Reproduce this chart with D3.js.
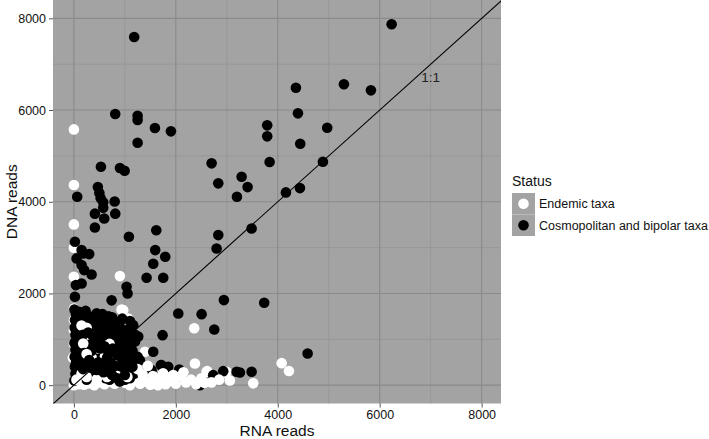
<!DOCTYPE html>
<html>
<head>
<meta charset="utf-8">
<script src="https://cdn.jsdelivr.net/npm/d3@7"></script>
<style>
	body { margin: 0; background: #fff; }
	svg { display: block; font-family: "Liberation Sans", Arial, sans-serif; }
</style>
</head>
<body>
<svg id="scatter" width="709" height="439"></svg>
<script>
/**
*/
var endemic = [
	[0,5578],[0,4364],[0,3506],[0,2996],[0,2364],[903,2378],[935,1651],[968,1636],[1066,1455],
	[2361,1240],[1393,727],[2375,473],[2617,305],[2949,268],[2604,291],[2996,291],[3061,100],
	[3519,40],[4076,480],[4219,310],[0,1673],[0,1418],[0,1200],[0,900],[-20,600],
	[150,500],[500,550],[1000,480],[600,350],[800,700],
	[0,0],[100,20],[200,10],[300,40],[400,0],[500,60],[600,20],[700,80],[800,30],[900,150],
	[1000,50],[1100,0],[1200,100],[1300,30],[1400,80],[1500,10],[1600,60],[1700,150],
	[1800,20],[1900,90],[2000,30],[2100,200],[2200,60],[2300,120],[2400,20],[2500,150],
	[2560,50],[150,250],[350,280],[550,300],[750,250],[950,300],[1150,260],[1350,230],
	[1550,200],[1750,260],[1950,220],[2150,280],[1850,160],[1650,0],[1250,350],[1450,420],
	[150,1300],[250,1250],[300,1100],[183,909],[477,800],[350,600],[608,618],
	[838,545],[700,900],[250,680],
	[50,120],[250,180],[450,130],[650,180],[850,200],[1050,180],[2700,60],[2850,120]
];

var cosmopolitan = [
	[1183,7593],[811,5913],[1250,5876],[1250,5782],[1590,5608],[1904,5535],[1250,5287],
	[530,4764],[903,4735],[995,4676],[2702,4837],[2833,4401],[3291,4546],[3408,4320],[3199,4109],
	[6234,7870],[4356,6487],[5298,6561],[5828,6430],[4396,5928],[3793,5666],[3793,5426],
	[4970,5615],[4441,5266],[3840,4866],[4886,4873],[4160,4204],[4435,4298],
	[65,4109],[470,4320],[500,4190],[525,4075],[575,3990],[800,4005],[412,3740],[575,3870],
	[812,3740],[595,3636],[412,3440],
	[1079,3236],[1616,3380],[1596,2946],[1792,2800],[1557,2647],[1426,2341],[1753,2341],
	[20,3127],[151,2946],[183,2873],[300,2858],[53,2764],[151,2618],[202,2509],[347,2415],
	[1034,2145],[1053,2000],[39,2182],[151,2218],[20,1927],
	[2833,3273],[2800,2982],[3487,3418],[2943,1855],[2048,1564],[2506,1549],[2754,1215],
	[740,1850],[1164,1309],[1740,1091],[1262,1060],[1557,727],[445,1564],
	[1720,436],[1524,327],[1557,109],[3192,291],[3487,291],[2733,218],[2473,0],[3734,1797],
	[4586,691],[3257,276],[1295,545],[1707,436],[1851,400],[2067,340],[2930,305],[1491,327],
	[10,1650],[40,1550],[20,1420],[60,1330],[15,1250],[80,1180],[30,1100],[50,1000],[10,920],
	[90,860],[30,780],[70,700],[15,620],[100,560],[40,480],[20,400],[80,330],[30,250],[60,170],
	[10,100],[120,1450],[150,1250],[130,1050],[160,900],[140,720],[170,600],[120,420],[160,300],
	[230,1620],[300,1500],[250,1380],[380,1420],[450,1560],[520,1450],[600,1400],[680,1500],
	[750,1480],[820,1350],[900,1380],[960,1200],[1000,1100],[1080,1000],[1150,1300],[1200,1100],
	[220,1200],[330,1250],[420,1150],[500,1300],[560,1180],[650,1250],[720,1150],[800,1200],
	[880,1050],[950,950],[1050,850],[1150,750],[1250,620],
	[250,1000],[360,950],[450,1020],[540,900],[620,1000],[700,880],[780,950],[850,820],
	[920,700],[1000,650],[1100,560],[1200,450],
	[230,800],[300,700],[400,820],[480,720],[560,650],[640,760],[720,640],[800,560],[880,480],
	[960,420],[1050,350],[1180,250],
	[250,550],[350,480],[430,600],[520,420],[600,520],[680,400],[760,300],[840,250],[920,200],
	[1000,120],[300,300],[400,200],[500,250],[620,150],[700,120],[250,120],[900,80],[1100,150],
	[100,1600],[200,1500],[350,1350],[480,1400],[560,1550],[620,1300],[700,1350],[780,1300],
	[870,1250],[950,1450],[1050,1200],[1100,1400],[180,1100],[280,1150],[380,1050],[480,1100],
	[600,1100],[680,1050],[760,1050],[850,1150],[900,900],[1000,800],[1120,900],[1200,950],
	[200,700],[350,750],[430,900],[520,800],[600,850],[680,700],[760,800],[850,650],[950,550],
	[1050,700],[200,450],[300,550],[400,400],[480,500],[560,450],[650,600],[720,500],[800,420],
	[870,350],[1000,300],[1150,400],[180,350],[350,380],[450,330],[580,280],[650,300],[750,220],
	[850,150],[1000,220]
];

var x_ticks = [0, 2000, 4000, 6000, 8000];
var y_ticks = [0, 2000, 4000, 6000, 8000];
var minor_ticks = [1000, 3000, 5000, 7000];
var status_labels = ["Endemic taxa", "Cosmopolitan and bipolar taxa"];
var status_colors = ["#ffffff", "#000000"];

var panel = { left: 53, top: 0, width: 448, height: 403.5 };

var svg = d3.select("#scatter");

var x = d3.scaleLinear().domain([-410, 8380]).range([panel.left, panel.left + panel.width]);
var y = d3.scaleLinear().domain([-400, 8400]).range([panel.top + panel.height, panel.top]);

/* Panel background */
svg.append("rect")
	.attr("x", panel.left).attr("y", panel.top)
	.attr("width", panel.width).attr("height", panel.height)
	.attr("fill", "#a3a3a3");

svg.append("clipPath").attr("id", "clip")
	.append("rect")
	.attr("x", panel.left).attr("y", panel.top)
	.attr("width", panel.width).attr("height", panel.height);

/* Grid lines */
var grid = svg.append("g");
minor_ticks.forEach(function(v) {
	grid.append("line").attr("x1", x(v)).attr("x2", x(v))
		.attr("y1", panel.top).attr("y2", panel.top + panel.height)
		.attr("stroke", "#939393").attr("stroke-width", 0.7);
	grid.append("line").attr("y1", y(v)).attr("y2", y(v))
		.attr("x1", panel.left).attr("x2", panel.left + panel.width)
		.attr("stroke", "#939393").attr("stroke-width", 0.7);
});
x_ticks.forEach(function(v) {
	grid.append("line").attr("x1", x(v)).attr("x2", x(v))
		.attr("y1", panel.top).attr("y2", panel.top + panel.height)
		.attr("stroke", "#8a8a8a").attr("stroke-width", 1.1);
});
y_ticks.forEach(function(v) {
	grid.append("line").attr("y1", y(v)).attr("y2", y(v))
		.attr("x1", panel.left).attr("x2", panel.left + panel.width)
		.attr("stroke", "#8a8a8a").attr("stroke-width", 1.1);
});

/* Points : both groups spread evenly through the drawing order */
var points = [];
endemic.forEach(function(p, i) {
	points.push({ rna: p[0], dna: p[1], s: 0, k: (i + 0.5) / endemic.length });
});
cosmopolitan.forEach(function(p, i) {
	points.push({ rna: p[0], dna: p[1], s: 1, k: i / cosmopolitan.length });
});
points.sort(function(a, b) { return a.k - b.k; });

svg.append("g").attr("clip-path", "url(#clip)")
	.selectAll("circle")
	.data(points)
	.enter().append("circle")
	.attr("cx", function(d) { return x(d.rna); })
	.attr("cy", function(d) { return y(d.dna); })
	.attr("r", 5.3)
	.attr("fill", function(d) { return status_colors[d.s]; });

/* 1:1 line */
svg.append("line")
	.attr("clip-path", "url(#clip)")
	.attr("x1", x(-410)).attr("y1", y(-410))
	.attr("x2", x(8400)).attr("y2", y(8400))
	.attr("stroke", "#000").attr("stroke-width", 1.1);

svg.append("text")
	.attr("x", x(7000)).attr("y", y(6720) + 5)
	.attr("text-anchor", "middle")
	.attr("font-size", 13.5)
	.attr("fill", "#222")
	.text("1:1");

/* Axes */
var xAxis = svg.append("g")
	.attr("transform", "translate(0," + (panel.top + panel.height) + ")")
	.call(d3.axisBottom(x).tickValues(x_ticks).tickSize(4).tickPadding(3).tickFormat(d3.format("d")));
var yAxis = svg.append("g")
	.attr("transform", "translate(" + panel.left + ",0)")
	.call(d3.axisLeft(y).tickValues(y_ticks).tickSize(4).tickPadding(3).tickFormat(d3.format("d")));

[xAxis, yAxis].forEach(function(a) {
	a.select(".domain").remove();
	a.selectAll(".tick line").attr("stroke", "#555");
	a.selectAll(".tick text")
		.attr("font-size", 12.5)
		.attr("font-family", "Liberation Sans, Arial, sans-serif")
		.attr("fill", "#111");
});

svg.append("text")
	.attr("x", panel.left + panel.width / 2).attr("y", 436)
	.attr("text-anchor", "middle")
	.attr("font-size", 15.5)
	.attr("fill", "#111")
	.text("RNA reads");

svg.append("text")
	.attr("transform", "translate(17," + (panel.top + panel.height / 2) + ") rotate(-90)")
	.attr("text-anchor", "middle")
	.attr("font-size", 15.5)
	.attr("fill", "#111")
	.text("DNA reads");

/* Legend */
var legend = svg.append("g").attr("transform", "translate(512,170)");
legend.append("text")
	.attr("x", 0).attr("y", 16)
	.attr("font-size", 14)
	.attr("fill", "#111")
	.text("Status");

status_labels.forEach(function(label, i) {
	let g = legend.append("g").attr("transform", "translate(0," + (23 + i * 21.5) + ")");
	g.append("rect")
		.attr("width", 23).attr("height", 21.5)
		.attr("fill", "#a3a3a3");
	g.append("circle")
		.attr("cx", 11.5).attr("cy", 10.75).attr("r", 5.3)
		.attr("fill", status_colors[i]);
	g.append("text")
		.attr("x", 27).attr("y", 15)
		.attr("font-size", 12.5)
		.attr("fill", "#111")
		.text(label);
});
</script>
</body>
</html>
